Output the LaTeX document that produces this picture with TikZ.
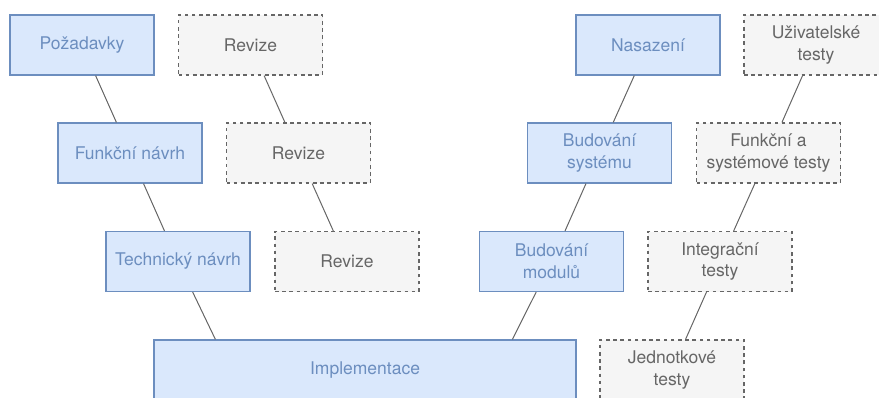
\documentclass[tikz,border=0pt]{standalone}
\usepackage{fontspec}
\setmainfont{TeX Gyre Heros}
\usetikzlibrary{calc}
\definecolor{phasefill}{HTML}{DAE8FC}
\definecolor{phaseline}{HTML}{6C8EBF}
\definecolor{testfill}{HTML}{F5F5F5}
\definecolor{testline}{HTML}{666666}
\definecolor{linkline}{HTML}{666666}
\begin{document}
\begin{tikzpicture}[x=1pt,y=-1pt,
  box/.style={rectangle, minimum width=144pt, minimum height=60pt, inner sep=0pt,
    align=center, font=\fontsize{17.5}{21.6}\selectfont, line width=1.2pt},
  phase/.style={box, fill=phasefill, draw=phaseline, text=phaseline},
  check/.style={box, fill=testfill, draw=testline, text=testline,
    dash pattern=on 3.6pt off 3.6pt},
  link/.style={draw=linkline, line width=1pt}]
\useasboundingbox (0,0) rectangle (879,397);
\clip (0,0) rectangle (879,397);

% left branch: specification phases and their reviews
\node[phase] (pozad) at (82,45) {Požadavky};
\node[check] (rev1) at (250.5,45) {Revize};
\node[phase] (funk) at (130,153) {Funkční návrh};
\node[check] (rev2) at (298.5,153) {Revize};
\node[phase] (tech) at (178,261.5) {Technický návrh};
\node[check] (rev3) at (347,261.5) {Revize};

% bottom of the V
\node[phase, minimum width=422pt] (impl) at (365,370) {Implementace};

% right branch: build phases and their tests
\node[phase] (bmod) at (551.5,261.5) {Budování\\modulů};
\node[check] (integ) at (720,261.5) {Integrační\\testy};
\node[phase] (bsys) at (599.5,153) {Budování\\systému};
\node[check] (fst) at (768.5,153) {Funkční a\\systémové testy};
\node[phase] (nasaz) at (648,45) {Nasazení};
\node[check] (uziv) at (816,45) {Uživatelské\\testy};
\node[check] (jedn) at (672,370) {Jednotkové\\testy};

% connectors
\draw[link] (pozad) -- (funk);
\draw[link] (funk) -- (tech);
\draw[link] (tech) -- ($(impl.north west)+(62,0)$);
\draw[link] (bmod) -- ($(impl.north west)+(359,0)$);
\draw[link] (bmod) -- (bsys);
\draw[link] (bsys) -- (nasaz);
\draw[link] (rev1) -- (rev2);
\draw[link] (rev2) -- (rev3);
\draw[link] (uziv) -- (fst);
\draw[link] (fst) -- (integ);
\draw[link] (integ) -- (jedn);
\end{tikzpicture}
\end{document}
